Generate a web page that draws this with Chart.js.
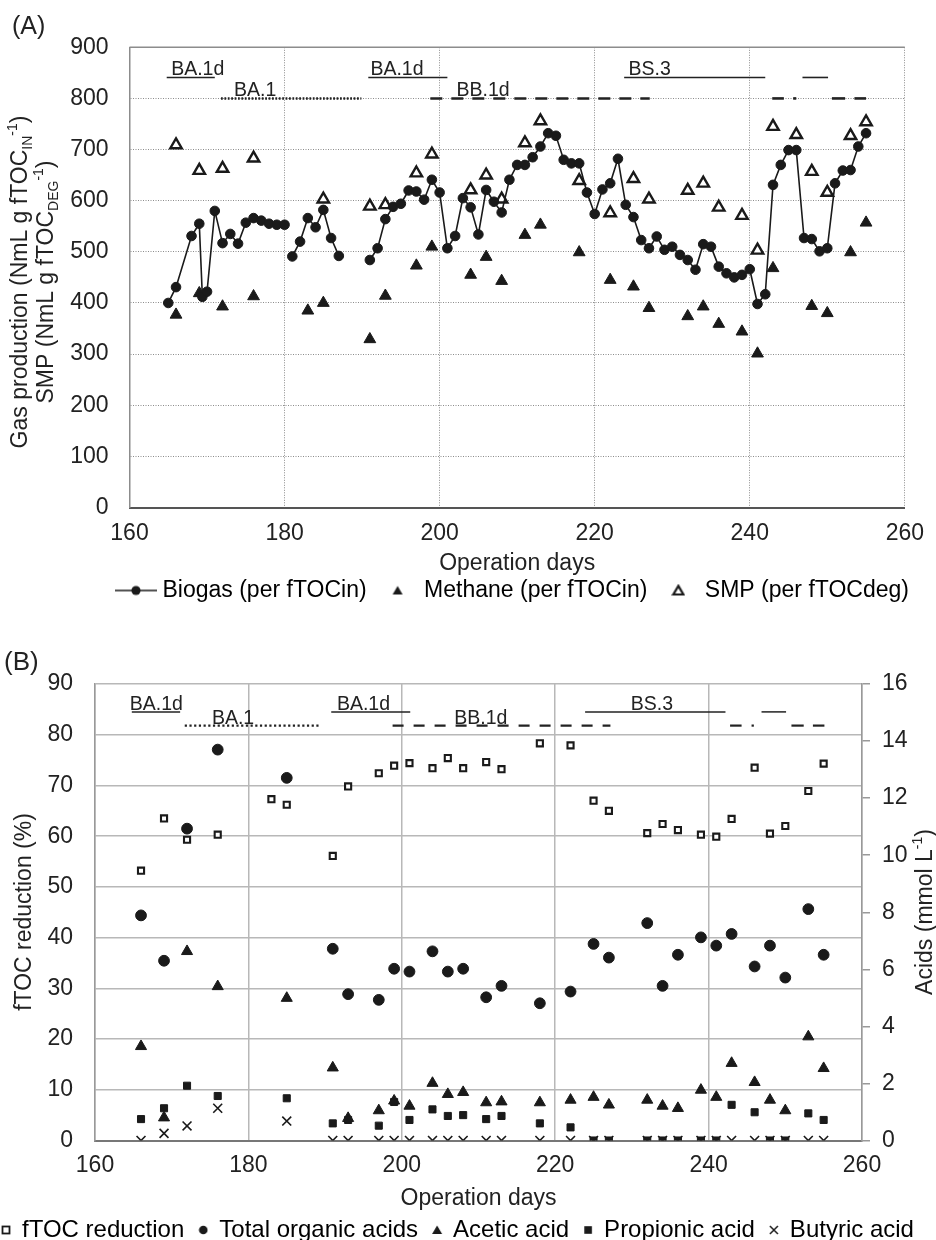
<!DOCTYPE html>
<html>
<head>
<meta charset="utf-8">
<title>Gas production and fTOC reduction</title>
<script src="https://cdn.jsdelivr.net/npm/chart.js@4.4.1/dist/chart.umd.min.js"></script>
<style>
  html, body { margin: 0; padding: 0; background: #fff; width: 936px; height: 1240px; overflow: hidden; }
  canvas { position: absolute; left: 0; }
  #chartA { top: 0; }
  #chartB { top: 620px; }
</style>
</head>
<body>
<canvas id="chartA" width="936" height="612"></canvas>
<canvas id="chartB" width="936" height="632"></canvas>
<script>
// ---------- (A) gas production ----------
const biogasDays = [165,166,168,169,169.4,170,171,172,173,174,175,176,177,178,179,180,
  181,182,183,184,185,186,187,
  191,192,193,194,195,196,197,198,199,200,201,202,203,204,205,206,207,208,209,210,
  211,212,213,214,215,216,217,218,219,220,221,222,223,224,225,226,227,228,229,230,
  231,232,233,234,235,236,237,238,239,240,241,242,243,244,245,246,247,248,249,250,
  251,252,253,254,255];
const biogasVals = [400,431,531,555,412,422,580,517,535,516,557,566,561,555,553,553,
  491,520,566,548,582,527,492,
  484,507,564,588,594,620,618,602,641,616,507,531,605,587,534,621,598,577,641,670,
  670,685,706,732,727,680,673,673,616,574,622,634,682,592,568,523,507,530,504,510,
  494,484,465,515,510,471,458,450,455,466,398,417,631,670,699,699,527,525,501,507,
  634,659,660,706,732];
const biogasBreaks = [180, 187];   // no connecting line after these days

const methaneDays = [166,169,172,176,183,185,191,193,197,199,204,206,208,211,213,218,
  222,225,227,232,234,236,239,241,243,248,250,253,255];
const methaneVals = [377,419,393,413,385,400,329,414,473,510,455,490,443,533,553,499,
  445,432,390,374,393,359,344,301,468,394,380,499,557];

const smpDays = [166,169,172,176,185,191,193,197,199,204,206,208,211,213,218,222,225,
  227,232,234,236,239,241,243,246,248,250,253,255];
const smpVals = [709,659,663,683,603,589,592,654,691,621,650,603,713,756,639,576,643,
  603,620,634,587,571,503,745,729,657,616,727,754];

const xTicksA = [160, 180, 200, 220, 240, 260];
const yTicksA = [0, 100, 200, 300, 400, 500, 600, 700, 800, 900];

// phase bars: [start day, end day, level, kind] and labels: [text, day, level]
const phaseBarsA = [
  [164.8, 171.0, 841, 'solid'], [171.8, 189.9, 800, 'dot'], [190.8, 201.0, 841, 'solid'],
  [198.8, 227.1, 800, 'dash'], [223.8, 242.0, 841, 'solid'], [246.8, 250.1, 841, 'solid'],
  [242.9, 244.4, 800, 'bar'], [245.6, 246.0, 800, 'bar'], [250.6, 252.3, 800, 'bar'], [253.5, 255.0, 800, 'bar']
];
const phaseLabelsA = [['BA.1d', 168.8, 841], ['BA.1', 176.2, 800], ['BA.1d', 194.5, 841],
  ['BB.1d', 205.6, 800], ['BS.3', 227.1, 841]];

// ---------- (B) fTOC reduction and acids ----------
const ftocDays = [166,169,172,176,183,185,191,193,197,199,201,204,206,208,211,213,218,
  222,225,227,232,234,236,239,241,243,246,248,250,253,255];
const ftocVals = [53.2,63.5,59.3,60.3,67.3,66.2,56.1,69.8,72.4,73.9,74.4,73.4,75.4,73.4,
  74.6,73.2,78.3,77.9,67.0,65.0,60.6,62.4,61.2,60.3,59.9,63.4,73.5,60.5,62.0,68.9,74.3];

const acidDays = [166,169,172,176,185,191,193,197,199,201,204,206,208,211,213,218,222,
  225,227,232,234,236,239,241,243,246,248,250,253,255];
const totalAcids = [7.89,6.30,10.93,13.70,12.71,6.72,5.13,4.93,6.02,5.92,6.63,5.92,6.02,
  5.02,5.42,4.81,5.22,6.89,6.41,7.62,5.42,6.51,7.12,6.83,7.24,6.10,6.83,5.71,8.11,6.51];
const aceticAcid = [3.30,0.80,6.63,5.40,4.99,2.55,0.78,1.05,1.39,1.21,2.01,1.62,1.69,
  1.33,1.36,1.33,1.42,1.52,1.25,1.42,1.21,1.13,1.77,1.52,2.71,2.04,1.42,1.05,3.64,2.53];
const propionicAcid = [0.75,1.13,1.92,1.56,1.48,0.60,0.72,0.52,1.35,0.72,1.09,0.86,0.89,
  0.75,0.86,0.60,0.46,0,0,0,0,0,0,0,1.25,0.99,0,0,0.95,0.72];
const butyricAcid = [0,0.25,0.51,1.13,0.68,0,0,0,0,0,0,0,0,0,0,0,0,0,0,0,0,0,0,0,0,0,0,0,0,0];

const xTicksB = [160, 180, 200, 220, 240, 260];
const yTicksB = [0, 10, 20, 30, 40, 50, 60, 70, 80, 90];
const y2TicksB = [0, 2, 4, 6, 8, 10, 12, 14, 16];

const phaseBarsB = [
  [164.8, 171.1, 84.5, 'solid'], [171.7, 189.3, 81.8, 'dot'], [190.8, 201.1, 84.5, 'solid'],
  [198.8, 227.2, 81.8, 'dash'], [223.9, 242.2, 84.5, 'solid'], [246.9, 250.1, 84.5, 'solid'],
  [242.8, 244.3, 81.8, 'bar'], [245.6, 245.9, 81.8, 'bar'], [250.8, 252.4, 81.8, 'bar'], [253.6, 255.1, 81.8, 'bar']
];
const phaseLabelsB = [['BA.1d', 168.0, 84.5], ['BA.1', 178.0, 81.8], ['BA.1d', 195.0, 84.5],
  ['BB.1d', 210.3, 81.8], ['BS.3', 232.6, 84.5]];

// ---------- helpers ----------
const FONT = '"Liberation Sans", Arial, Helvetica, sans-serif';
const INK = '#1a1a1a';
Chart.defaults.font.family = FONT;
Chart.defaults.color = '#222';

const pts = (xs, ys) => xs.map((d, i) => ({ x: d, y: ys[i] }));
const fixedTicks = list => scale => { scale.ticks = list.map(v => ({ value: v })); };

function legendSymbol(kind, w, h) {
  const c = document.createElement('canvas');
  c.width = w; c.height = h;
  const g = c.getContext('2d');
  const cx = w / 2, cy = h / 2;
  g.fillStyle = INK; g.strokeStyle = INK;
  if (kind === 'lineCircle') {
    g.lineWidth = 1.6;
    g.beginPath(); g.moveTo(0, cy); g.lineTo(w, cy); g.stroke();
    g.beginPath(); g.arc(cx, cy, 4.6, 0, Math.PI * 2); g.fill();
  } else if (kind === 'triFill' || kind === 'triOpen') {
    g.beginPath(); g.moveTo(cx, cy - 4.6); g.lineTo(cx + 5, cy + 4); g.lineTo(cx - 5, cy + 4); g.closePath();
    if (kind === 'triFill') g.fill();
    else { g.fillStyle = '#fff'; g.fill(); g.lineWidth = 2.2; g.stroke(); }
  } else if (kind === 'sqOpen') {
    g.fillStyle = '#fff'; g.fillRect(cx - 3.5, cy - 3.5, 7, 7);
    g.lineWidth = 1.8; g.strokeRect(cx - 3.5, cy - 3.5, 7, 7);
  } else if (kind === 'circle') {
    g.beginPath(); g.arc(cx, cy, 4.3, 0, Math.PI * 2); g.fill();
  } else if (kind === 'sqFill') {
    g.fillRect(cx - 3.8, cy - 3.8, 7.6, 7.6);
  } else if (kind === 'cross') {
    g.lineWidth = 1.5;
    g.beginPath(); g.moveTo(cx - 4, cy - 4); g.lineTo(cx + 4, cy + 4);
    g.moveTo(cx + 4, cy - 4); g.lineTo(cx - 4, cy + 4); g.stroke();
  }
  return c;
}

function richText(ctx, parts, cx, cy, size) {
  ctx.save();
  ctx.translate(cx, cy);
  ctx.rotate(-Math.PI / 2);
  ctx.fillStyle = '#222';
  ctx.textBaseline = 'middle';
  ctx.textAlign = 'left';
  const fontFor = p => ((p.sub || p.sup) ? Math.round(size * 0.62) : size) + 'px ' + FONT;
  let total = 0;
  parts.forEach(p => { ctx.font = fontFor(p); total += ctx.measureText(p.t).width; });
  let x = -total / 2;
  parts.forEach(p => {
    ctx.font = fontFor(p);
    const dy = p.sub ? size * 0.3 : p.sup ? -size * 0.36 : 0;
    ctx.fillText(p.t, x, dy);
    x += ctx.measureText(p.t).width;
  });
  ctx.restore();
}

// phase bars drawn through the chart's own scales
function phasePlugin(bars, labels, styles, font) {
  return {
    id: 'phases',
    afterDatasetsDraw(chart) {
      const { ctx } = chart;
      const x = chart.scales.x, y = chart.scales.y;
      ctx.save();
      ctx.strokeStyle = '#222';
      bars.forEach(([d0, d1, lvl, kind]) => {
        const st = styles[kind];
        ctx.lineWidth = st.width;
        ctx.setLineDash(st.dash);
        const py = y.getPixelForValue(lvl);
        ctx.beginPath();
        ctx.moveTo(x.getPixelForValue(d0), py);
        ctx.lineTo(x.getPixelForValue(d1), py);
        ctx.stroke();
      });
      ctx.setLineDash([]);
      ctx.fillStyle = '#222';
      ctx.font = font;
      ctx.textAlign = 'center';
      ctx.textBaseline = 'alphabetic';
      labels.forEach(([t, d, lvl]) => ctx.fillText(t, x.getPixelForValue(d), y.getPixelForValue(lvl) - 2));
      ctx.restore();
    }
  };
}

function decorPlugin(draw) {
  return { id: 'decor', afterDraw(chart) { draw(chart.ctx, chart.chartArea); } };
}

// move the legend row sideways after layout (it is wider than the plot area)
function legendShift(dx) {
  return { id: 'legendShift', afterLayout(chart) { if (chart.legend) { chart.legend.left += dx; chart.legend.right += dx; } } };
}

// ---------- chart A ----------
const legendA = [
  ['Biogas (per fTOCin)', legendSymbol('lineCircle', 42, 12)],
  ['Methane (per fTOCin)', legendSymbol('triFill', 12, 12)],
  ['SMP (per fTOCdeg)', legendSymbol('triOpen', 14, 14)]
];

new Chart(document.getElementById('chartA'), {
  type: 'scatter',
  data: {
    datasets: [
      {
        type: 'line', label: 'Biogas (per fTOCin)', data: pts(biogasDays, biogasVals),
        borderColor: INK, borderWidth: 1.6, tension: 0, fill: false,
        pointStyle: 'circle', pointRadius: 4.8, pointBackgroundColor: INK, pointBorderColor: INK, pointBorderWidth: 1,
        segment: { borderColor: c => biogasBreaks.includes(biogasDays[c.p0DataIndex]) ? 'rgba(0,0,0,0)' : INK }
      },
      {
        label: 'Methane (per fTOCin)', data: pts(methaneDays, methaneVals),
        pointStyle: 'triangle', pointRadius: 6.8, pointBackgroundColor: INK, pointBorderColor: INK, pointBorderWidth: 1
      },
      {
        label: 'SMP (per fTOCdeg)', data: pts(smpDays, smpVals),
        pointStyle: 'triangle', pointRadius: 6.6, pointBackgroundColor: '#fff', pointBorderColor: INK, pointBorderWidth: 2.4
      }
    ]
  },
  options: {
    responsive: false,
    animation: false,
    events: [],
    layout: { padding: { left: 0, right: 23.3, top: 47.3, bottom: 0 } },
    plugins: {
      tooltip: { enabled: false },
      legend: {
        position: 'bottom',
        align: 'start',
        fullSize: true,
        labels: {
          usePointStyle: true, pointStyleWidth: 30, padding: 16, color: '#222',
          font: { size: 23 },
          generateLabels: () => legendA.map(([t, sym], i) => ({
            text: t, pointStyle: sym, fillStyle: INK, strokeStyle: INK, lineWidth: 1, hidden: false, datasetIndex: i
          }))
        }
      }
    },
    scales: {
      x: {
        type: 'linear', min: 160, max: 260,
        afterBuildTicks: fixedTicks(xTicksA),
        afterFit: s => { s.height = 55.5; },
        grid: { color: '#8c8c8c', lineWidth: 1, drawTicks: false },
        border: { color: '#555', width: 2, dash: [1, 1.5] },
        ticks: { padding: 12, autoSkip: false, font: { size: 23 }, color: '#222' },
        title: { display: true, text: 'Operation days', font: { size: 23 }, color: '#222', padding: { top: 0, bottom: -14.8 } }
      },
      y: {
        min: 0, max: 900,
        afterBuildTicks: fixedTicks(yTicksA),
        afterFit: s => { s.width = 129.5; },
        grid: { color: '#8c8c8c', lineWidth: 1, drawTicks: false },
        border: { color: '#8c8c8c', width: 1.5, dash: [1, 1.5] },
        ticks: { padding: 21, autoSkip: false, font: { size: 23 }, color: '#222' }
      }
    }
  },
  plugins: [
    legendShift(105),
    phasePlugin(phaseBarsA, phaseLabelsA, {
      solid: { width: 1.6, dash: [] }, dot: { width: 2.5, dash: [1.8, 1.6] },
      dash: { width: 2.6, dash: [12, 9] }, bar: { width: 2.6, dash: [] }
    }, '19.5px ' + FONT),
    decorPlugin((ctx, area) => {
      ctx.save();
      ctx.strokeStyle = '#8c8c8c'; ctx.lineWidth = 1.5;
      ctx.beginPath(); ctx.moveTo(area.left, area.top); ctx.lineTo(area.right, area.top); ctx.stroke();
      ctx.fillStyle = '#222'; ctx.font = '25px ' + FONT; ctx.textBaseline = 'middle'; ctx.textAlign = 'left';
      ctx.fillText('(A)', 12, 27);
      ctx.restore();
      richText(ctx, [{ t: 'Gas production (NmL g fTOC' }, { t: 'IN', sub: true }, { t: '-1', sup: true }, { t: ')' }], 21, 282, 23);
      richText(ctx, [{ t: 'SMP (NmL g fTOC' }, { t: 'DEG', sub: true }, { t: '-1', sup: true }, { t: ')' }], 47, 282, 23);
    })
  ]
});

// ---------- chart B ----------
const legendB = [
  ['fTOC reduction', legendSymbol('sqOpen', 10, 10)],
  ['Total organic acids', legendSymbol('circle', 10, 10)],
  ['Acetic acid', legendSymbol('triFill', 12, 12)],
  ['Propionic acid', legendSymbol('sqFill', 10, 10)],
  ['Butyric acid', legendSymbol('cross', 10, 10)]
];

new Chart(document.getElementById('chartB'), {
  type: 'scatter',
  data: {
    datasets: [
      {
        label: 'fTOC reduction', data: pts(ftocDays, ftocVals), yAxisID: 'y',
        pointStyle: 'rect', pointRadius: 4.3, pointBackgroundColor: '#fff', pointBorderColor: INK, pointBorderWidth: 2.1
      },
      {
        label: 'Total organic acids', data: pts(acidDays, totalAcids), yAxisID: 'y2',
        pointStyle: 'circle', pointRadius: 5.4, pointBackgroundColor: INK, pointBorderColor: INK, pointBorderWidth: 1
      },
      {
        label: 'Acetic acid', data: pts(acidDays, aceticAcid), yAxisID: 'y2',
        pointStyle: 'triangle', pointRadius: 6.4, pointBackgroundColor: INK, pointBorderColor: INK, pointBorderWidth: 1
      },
      {
        label: 'Propionic acid', data: pts(acidDays, propionicAcid), yAxisID: 'y2',
        pointStyle: 'rect', pointRadius: 5, pointBackgroundColor: INK, pointBorderColor: INK, pointBorderWidth: 1
      },
      {
        label: 'Butyric acid', data: pts(acidDays, butyricAcid), yAxisID: 'y2',
        pointStyle: 'crossRot', pointRadius: 6.3, pointBorderColor: INK, pointBorderWidth: 1.6
      }
    ]
  },
  options: {
    responsive: false,
    animation: false,
    events: [],
    layout: { padding: { left: -13, right: 0, top: 64, bottom: 0 } },
    plugins: {
      tooltip: { enabled: false },
      legend: {
        position: 'bottom',
        align: 'start',
        fullSize: true,
        labels: {
          usePointStyle: true, pointStyleWidth: 8, padding: 15, color: '#222',
          font: { size: 24 },
          generateLabels: () => legendB.map(([t, sym], i) => ({
            text: t, pointStyle: sym, fillStyle: INK, strokeStyle: INK, lineWidth: 1, hidden: false, datasetIndex: i
          }))
        }
      }
    },
    scales: {
      x: {
        type: 'linear', min: 160, max: 260,
        afterBuildTicks: fixedTicks(xTicksB),
        afterFit: s => { s.height = 62.5; },
        grid: { color: '#b8b8b8', lineWidth: 1.5, drawTicks: false },
        border: { color: '#777', width: 2 },
        ticks: { padding: 11, autoSkip: false, font: { size: 23 }, color: '#222' },
        title: { display: true, text: 'Operation days', font: { size: 23 }, color: '#222', padding: { top: 0, bottom: -9.8 } }
      },
      y: {
        position: 'left', min: 0, max: 90,
        afterBuildTicks: fixedTicks(yTicksB),
        afterFit: s => { s.width = 108; },
        grid: { color: '#b8b8b8', lineWidth: 1.5, drawTicks: false },
        border: { color: '#999', width: 1.5 },
        ticks: { padding: 22, autoSkip: false, font: { size: 23 }, color: '#222' }
      },
      y2: {
        position: 'right', min: 0, max: 16,
        afterBuildTicks: fixedTicks(y2TicksB),
        afterFit: s => { s.width = 74; },
        grid: { display: true, drawOnChartArea: false, drawTicks: true, tickLength: 8, color: '#999', lineWidth: 1.5 },
        border: { color: '#999', width: 1.5 },
        ticks: { padding: 12, autoSkip: false, font: { size: 23 }, color: '#222' }
      }
    }
  },
  plugins: [
    phasePlugin(phaseBarsB, phaseLabelsB, {
      solid: { width: 1.5, dash: [] }, dot: { width: 2.4, dash: [2.2, 2.5] },
      dash: { width: 2.2, dash: [11, 10] }, bar: { width: 2.2, dash: [] }
    }, '19.5px ' + FONT),
    decorPlugin((ctx, area) => {
      ctx.save();
      ctx.fillStyle = '#222'; ctx.font = '26px ' + FONT; ctx.textBaseline = 'middle'; ctx.textAlign = 'left';
      ctx.fillText('(B)', 4, 43);
      ctx.restore();
      richText(ctx, [{ t: 'fTOC reduction (%)' }], 25, 292, 23);
      richText(ctx, [{ t: 'Acids (mmol L' }, { t: '-1', sup: true }, { t: ')' }], 926, 292, 23);
    })
  ]
});
</script>
</body>
</html>
